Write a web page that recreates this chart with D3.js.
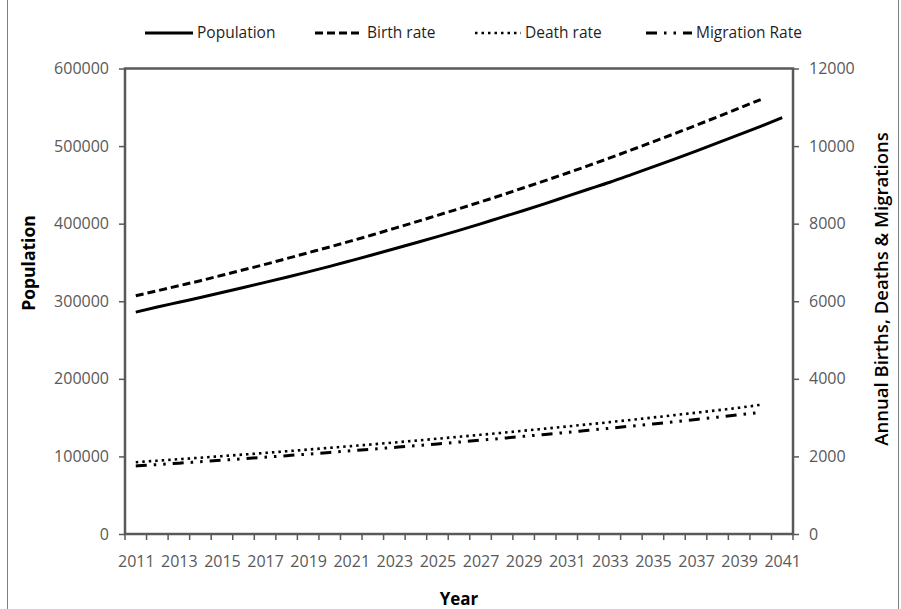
<!DOCTYPE html>
<html>
<head>
<meta charset="utf-8">
<script src="https://cdn.jsdelivr.net/npm/d3@7"></script>
<style>
  html, body { margin: 0; padding: 0; background: #fff; }
  svg { display: block; }
  text { font-family: "Open Sans", "DejaVu Sans", sans-serif; }
</style>
</head>
<body>
<svg id="chart" width="901" height="609"></svg>
<script>
// Years on the category axis
const years = d3.range(2011, 2042);
const yearLabels = years.filter((y, i) => i % 2 === 0);

// Total population (left axis), one value per year 2011-2041
const population = [
  286000, 292500, 298700, 304900, 311200, 317700, 324300, 331000, 337900, 345000,
  352400, 359900, 367600, 375400, 383300, 391400, 399800, 408500, 416900, 425800,
  435100, 444300, 453400, 463200, 473200, 483300, 493600, 504100, 514700, 525500,
  536600
];

// Annual births, deaths and migrations (right axis), 2011-2040
const birthRate = [
  6140, 6270, 6400, 6530, 6670, 6810, 6950, 7100, 7250, 7400,
  7555, 7715, 7880, 8045, 8215, 8385, 8560, 8740, 8925, 9110,
  9300, 9495, 9695, 9900, 10110, 10320, 10535, 10755, 10980, 11200
];
const deathRate = [
  1850, 1890, 1928, 1967, 2007, 2048, 2090, 2133, 2177, 2221,
  2266, 2312, 2359, 2407, 2456, 2506, 2557, 2609, 2662, 2716,
  2771, 2827, 2884, 2943, 3003, 3064, 3126, 3190, 3255, 3330
];
const migrationRate = [
  1755, 1790, 1826, 1863, 1901, 1940, 1979, 2019, 2060, 2102,
  2145, 2188, 2232, 2277, 2323, 2370, 2418, 2467, 2517, 2568,
  2620, 2673, 2727, 2782, 2838, 2895, 2953, 3012, 3073, 3135
];

const leftTicks = [0, 100000, 200000, 300000, 400000, 500000, 600000];
const rightTicks = [0, 2000, 4000, 6000, 8000, 10000, 12000];

const seriesNames = ["Population", "Birth rate", "Death rate", "Migration Rate"];

// Layout
const plot = { left: 125, right: 793, top: 68.5, bottom: 534 };
const axisColor = "#595959";
const labelColor = "#595959";

const svg = d3.select("#chart");

// Outer chart frame
svg.append("rect")
  .attr("x", 7.5).attr("y", -2)
  .attr("width", 891).attr("height", 700)
  .attr("fill", "none").attr("stroke", "#7f7f7f").attr("stroke-width", 1);

const x = d3.scalePoint()
  .domain(years)
  .range([plot.left, plot.right])
  .padding(0.5);
const step = x.step();

const yL = d3.scaleLinear().domain([0, 600000]).range([plot.bottom, plot.top]);
const yR = d3.scaleLinear().domain([0, 12000]).range([plot.bottom, plot.top]);

// Left axis
const gL = svg.append("g")
  .attr("transform", `translate(${plot.left},0)`)
  .call(d3.axisLeft(yL).tickValues(leftTicks).tickFormat(d3.format("d")).tickSize(6).tickPadding(10));
gL.select(".domain").remove();
gL.selectAll(".tick line").attr("stroke", axisColor).attr("stroke-width", 1.5);
gL.selectAll(".tick text")
  .attr("fill", labelColor).style("font-size", "16px");

// Right axis
const gR = svg.append("g")
  .attr("transform", `translate(${plot.right},0)`)
  .call(d3.axisRight(yR).tickValues(rightTicks).tickFormat(d3.format("d")).tickSize(6).tickPadding(10));
gR.select(".domain").remove();
gR.selectAll(".tick line").attr("stroke", axisColor).attr("stroke-width", 1.5);
gR.selectAll(".tick text")
  .attr("fill", labelColor).style("font-size", "16px");

// Bottom axis: labels on every other year, tick marks between categories
const gB = svg.append("g")
  .attr("transform", `translate(0,${plot.bottom})`)
  .call(d3.axisBottom(x).tickValues(yearLabels).tickFormat(d3.format("d")).tickSize(0).tickPadding(22));
gB.select(".domain").remove();
gB.selectAll(".tick text")
  .attr("fill", labelColor).style("font-size", "16px");

const boundaries = years.map(y => x(y) - step / 2).concat([x(years[years.length - 1]) + step / 2]);
svg.append("g").selectAll("line")
  .data(boundaries)
  .join("line")
  .attr("x1", d => d).attr("x2", d => d)
  .attr("y1", plot.bottom).attr("y2", plot.bottom + 6)
  .attr("stroke", axisColor).attr("stroke-width", 1.5);

// Plot frame
svg.append("rect")
  .attr("x", plot.left).attr("y", plot.top)
  .attr("width", plot.right - plot.left).attr("height", plot.bottom - plot.top)
  .attr("fill", "none").attr("stroke", axisColor).attr("stroke-width", 2.5);

// Series styles
const styles = {
  "Population": { dash: null, width: 3 },
  "Birth rate": { dash: "8 4", width: 3 },
  "Death rate": { dash: "2.5 4", width: 2.6 },
  "Migration Rate": { dash: "11 7 2.5 7 2.5 7", width: 3 }
};

const series = [
  { name: "Population", values: population, scale: yL },
  { name: "Birth rate", values: birthRate, scale: yR },
  { name: "Death rate", values: deathRate, scale: yR },
  { name: "Migration Rate", values: migrationRate, scale: yR }
];

series.forEach(s => {
  const st = styles[s.name];
  const line = d3.line()
    .x((d, i) => x(years[i]))
    .y(d => s.scale(d))
    .curve(d3.curveMonotoneX);
  svg.append("path")
    .datum(s.values)
    .attr("d", line)
    .attr("fill", "none")
    .attr("stroke", "#000")
    .attr("stroke-width", st.width)
    .attr("stroke-dasharray", st.dash);
});

// Legend
const legendY = 33;
const legendItems = [
  { name: seriesNames[0], x0: 145, x1: 193 },
  { name: seriesNames[1], x0: 315, x1: 363 },
  { name: seriesNames[2], x0: 475, x1: 521 },
  { name: seriesNames[3], x0: 646, x1: 692 }
];
const lg = svg.append("g");
legendItems.forEach(it => {
  const st = styles[it.name];
  lg.append("line")
    .attr("x1", it.x0).attr("x2", it.x1)
    .attr("y1", legendY).attr("y2", legendY)
    .attr("stroke", "#000").attr("stroke-width", st.width)
    .attr("stroke-dasharray", st.dash);
  lg.append("text")
    .attr("x", it.x1 + 4).attr("y", legendY)
    .attr("dy", "0.35em")
    .attr("fill", "#1f1f1f")
    .style("font-size", "15.5px")
    .text(it.name);
});

// Axis titles
svg.append("text")
  .attr("transform", `translate(29,263) rotate(-90)`)
  .attr("text-anchor", "middle")
  .attr("dy", "0.35em")
  .attr("fill", "#000")
  .style("font-size", "17.5px").style("font-weight", "bold")
  .text("Population");

svg.append("text")
  .attr("transform", `translate(882,289) rotate(-90)`)
  .attr("text-anchor", "middle")
  .attr("dy", "0.35em")
  .attr("fill", "#000")
  .style("font-size", "18.5px").style("font-weight", "600")
  .text("Annual Births, Deaths & Migrations");

svg.append("text")
  .attr("x", 459).attr("y", 605)
  .attr("text-anchor", "middle")
  .attr("fill", "#000")
  .style("font-size", "17px").style("font-weight", "bold")
  .text("Year");
</script>
</body>
</html>
